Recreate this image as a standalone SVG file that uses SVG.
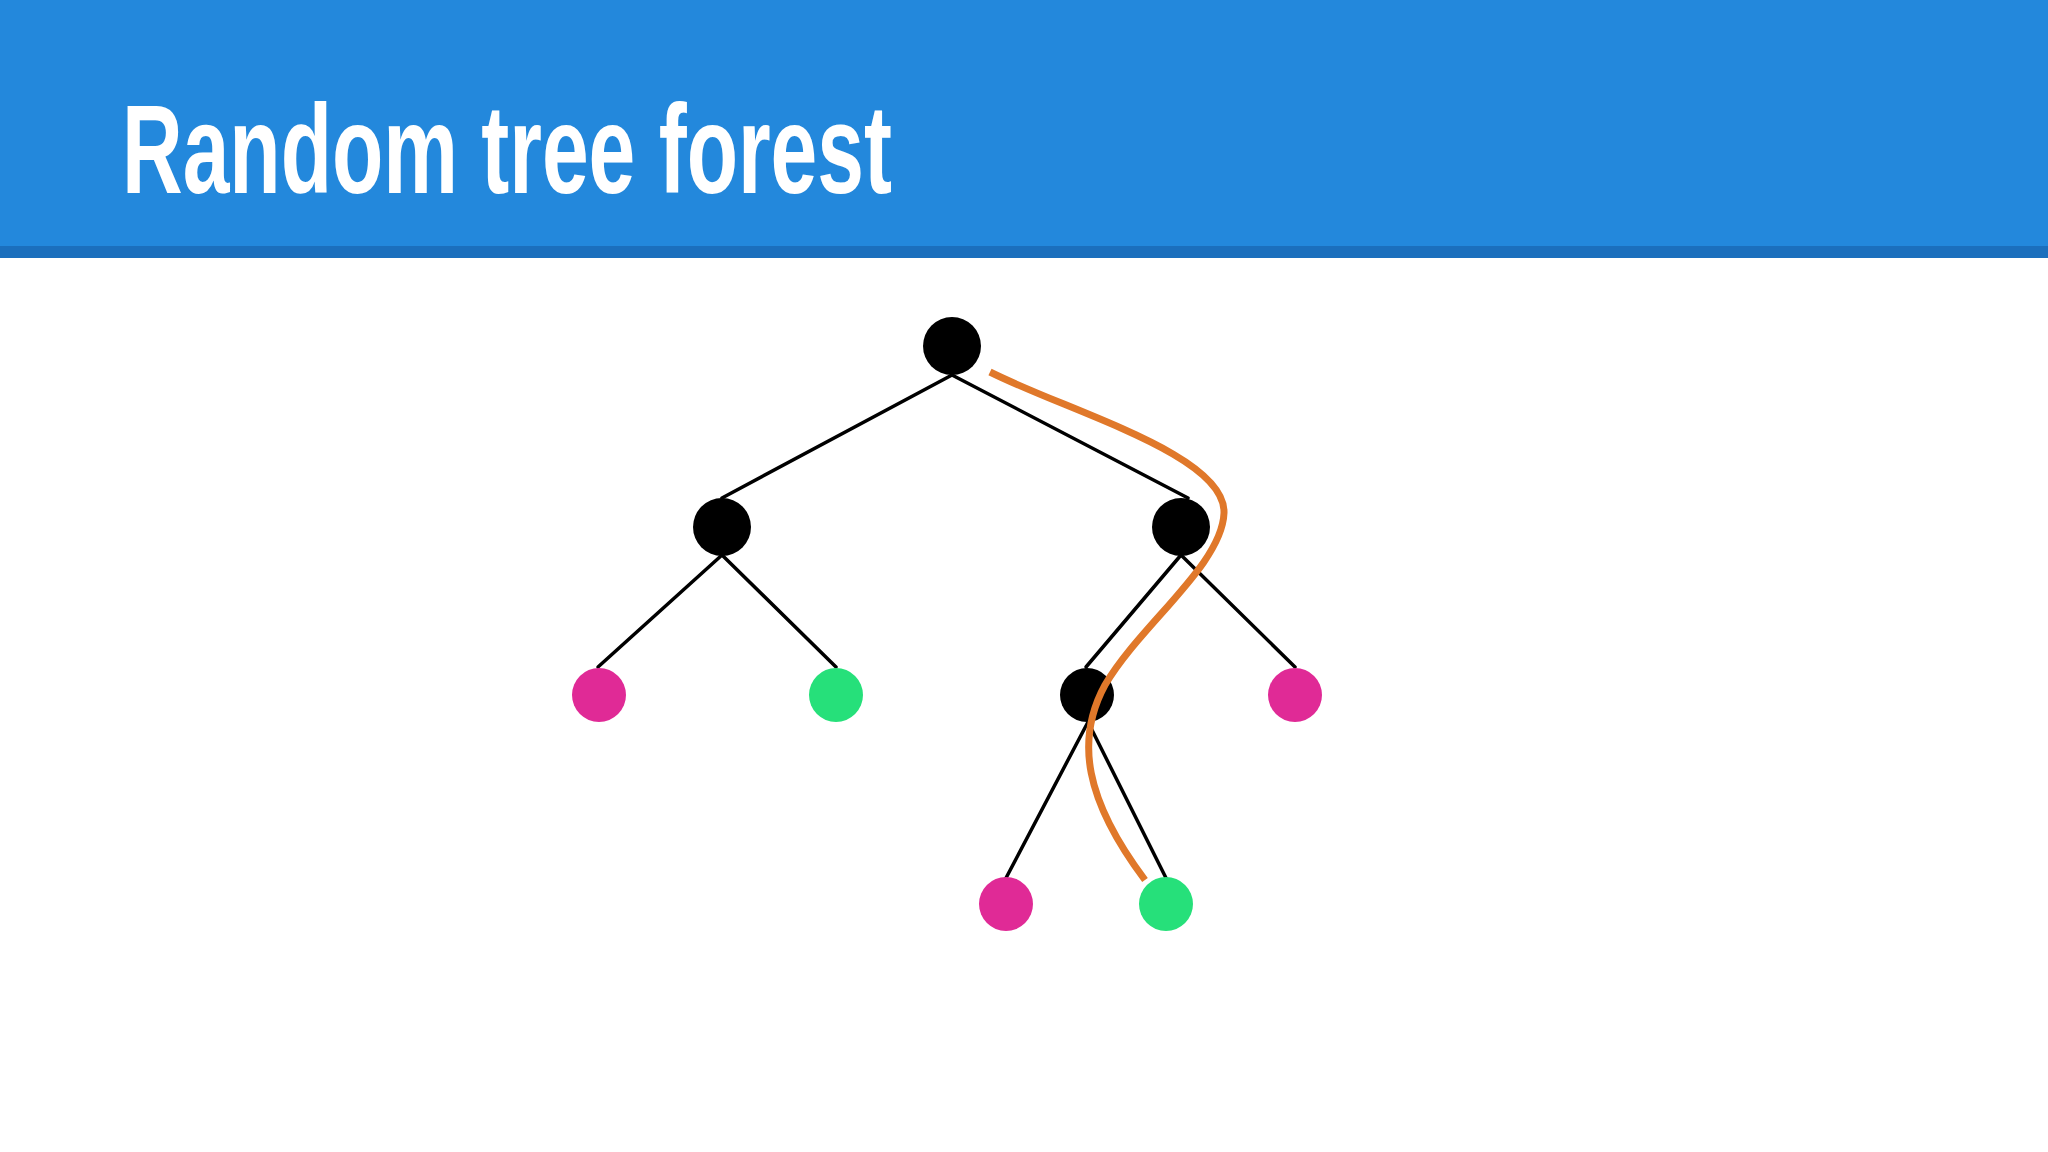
<svg xmlns="http://www.w3.org/2000/svg" width="2048" height="1152" viewBox="0 0 2048 1152">
<style>
.edge{stroke:#000;stroke-width:3.5;fill:none;stroke-linecap:round}
.inner{fill:#000}
.pink{fill:#e02a96}
.green{fill:#26e07a}
.path{stroke:#e0782a;stroke-width:7;fill:none}
.title{font-family:"Liberation Sans",Arial,sans-serif;font-weight:bold;font-size:126px;fill:#fff}
</style>
<rect x="0" y="0" width="2048" height="1152" fill="#fff"/>
<rect x="0" y="0" width="2048" height="246" fill="#2388dc"/>
<rect x="0" y="246" width="2048" height="12" fill="#1b6fbd"/>
<text class="title" x="122" y="193" textLength="770" lengthAdjust="spacingAndGlyphs">Random tree forest</text>
<g id="connectors">
<line class="edge" x1="952" y1="375" x2="722" y2="498"/>
<line class="edge" x1="952" y1="375" x2="1188" y2="498"/>
<line class="edge" x1="722" y1="555" x2="598" y2="667"/>
<line class="edge" x1="722" y1="555" x2="836" y2="667"/>
<line class="edge" x1="1181" y1="555" x2="1086" y2="667"/>
<line class="edge" x1="1181" y1="555" x2="1295" y2="667"/>
<line class="edge" x1="1088" y1="722" x2="1006" y2="878"/>
<line class="edge" x1="1088" y1="722" x2="1166" y2="878"/>
</g>
<g id="root"><circle class="inner" cx="952" cy="346" r="29"/></g>
<g id="n-left"><circle class="inner" cx="722" cy="527" r="29"/></g>
<g id="n-right"><circle class="inner" cx="1181" cy="527" r="29"/></g>
<g id="leaf-1"><circle class="pink" cx="599" cy="695" r="27"/></g>
<g id="leaf-2"><circle class="green" cx="836" cy="695" r="27"/></g>
<g id="n-mid"><circle class="inner" cx="1087" cy="695" r="27"/></g>
<g id="leaf-3"><circle class="pink" cx="1295" cy="695" r="27"/></g>
<g id="leaf-4"><circle class="pink" cx="1006" cy="904" r="27"/></g>
<g id="leaf-5"><circle class="green" cx="1166" cy="904" r="27"/></g>
<g id="decision-path">
<path class="path" d="M990,372 C1070,412 1226,455 1224,513 C1222,565 1140,625 1105,685 C1075,740 1085,800 1145,880"/>
</g>
</svg>
